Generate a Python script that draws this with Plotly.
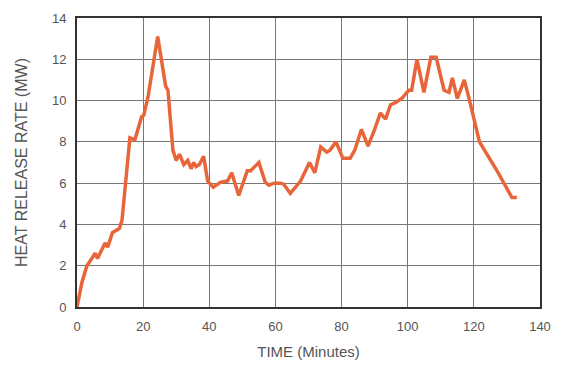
import plotly.graph_objects as go

time_min = [0, 1.5, 3, 5.5, 6.2, 8.5, 9.3, 10.7, 12.8, 13.6, 16.0, 17.5, 19.5, 20.2, 21.5, 22.8,
            24.4, 26.8, 27.5, 29.0, 30.0, 31.0, 32.3, 33.5, 34.5, 35.3, 36.0, 37.0, 38.3, 39.5,
            41.2, 43.5, 45.5, 46.8, 48.9, 51.5, 52.5, 55.0, 56.9, 58.0, 59.6, 61.5, 62.5, 64.5,
            66.5, 67.6, 70.3, 71.9, 73.7, 75.5, 76.5, 78.3, 80.4, 82.6, 84.0, 86.0, 88.0, 90.0,
            91.7, 93.3, 94.8, 96.3, 98.2, 100.3, 101.2, 102.8, 104.9, 107.0, 108.6, 111.0, 112.5,
            113.5, 115.0, 117.1, 118.7, 121.7, 127, 131.5, 133.0]
hrr_mw = [0, 1.2, 2.0, 2.6, 2.35, 3.1, 2.9, 3.6, 3.8, 4.2, 8.2, 8.1, 9.2, 9.3, 10.2, 11.4,
          13.1, 10.7, 10.5, 7.6, 7.1, 7.4, 6.9, 7.1, 6.7, 7.0, 6.8, 6.9, 7.3, 6.1,
          5.8, 6.05, 6.1, 6.5, 5.4, 6.6, 6.6, 7.0, 6.05, 5.9, 6.0, 6.0, 5.95, 5.5,
          5.9, 6.1, 7.0, 6.5, 7.75, 7.5, 7.6, 8.0, 7.2, 7.2, 7.6, 8.6, 7.8, 8.6,
          9.4, 9.1, 9.8, 9.9, 10.1, 10.5, 10.5, 12.0, 10.4, 12.1, 12.1, 10.5, 10.4,
          11.1, 10.1, 11.0, 10.0, 8.0, 6.6, 5.3, 5.3]

x_ticks = [0, 20, 40, 60, 80, 100, 120, 140]
y_ticks = [0, 2, 4, 6, 8, 10, 12, 14]

fig = go.Figure()
fig.add_trace(go.Scatter(x=time_min, y=hrr_mw, mode="lines",
                         line=dict(color="#E8653A", width=3.5), hoverinfo="skip"))

axis_common = dict(showgrid=True, gridcolor="#777777", gridwidth=1,
                   showline=True, linecolor="#333333", linewidth=2, mirror=True,
                   zeroline=False, ticks="", automargin=False,
                   tickfont=dict(color="#555555", size=13))

fig.update_layout(
    width=562, height=365,
    margin=dict(l=77, r=22, t=18, b=58),
    paper_bgcolor="white", plot_bgcolor="white",
    font=dict(family="Liberation Sans, Arial, sans-serif", color="#555555", size=13),
    showlegend=False,
    xaxis=dict(range=[0, 140], tickvals=x_ticks, ticklabelstandoff=6,
               title=dict(text="TIME (Minutes)", standoff=14,
                          font=dict(size=15, color="#555555")), **axis_common),
    yaxis=dict(range=[0, 14], tickvals=y_ticks, ticklabelstandoff=6,
               title=dict(text="HEAT RELEASE RATE (MW)", standoff=20,
                          font=dict(size=16, color="#555555")), **axis_common),
)
fig.write_html("out.html", config={"displayModeBar": False},
               post_script="document.body.style.margin='0';")
